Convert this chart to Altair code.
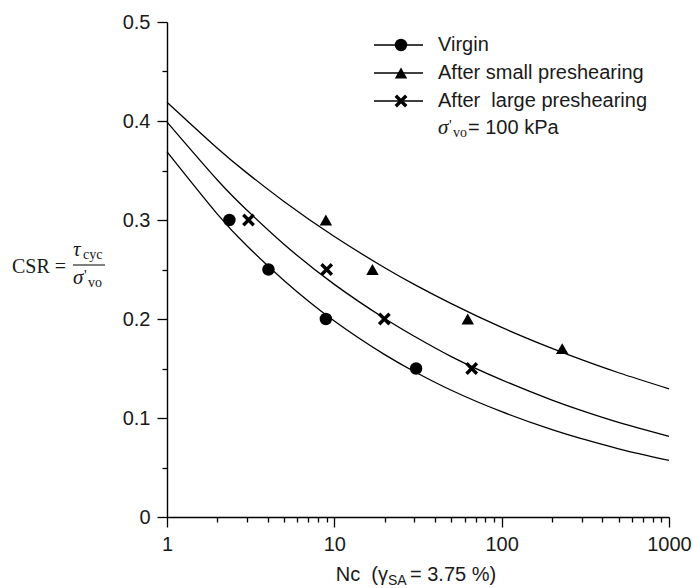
import altair as alt
import pandas as pd

# ---------------- data ----------------
series_names = ["Virgin", "After small preshearing", "After\u00a0 large preshearing"]

# fitted curves
curve_N = [1, 2, 3, 5, 10, 20, 30, 50, 100, 200, 300, 500, 1000]
curve_virgin = [0.369, 0.306, 0.274, 0.239, 0.198, 0.164, 0.147, 0.128, 0.1064, 0.0882, 0.0791, 0.0689, 0.0572]
curve_small = [0.419, 0.3725, 0.3476, 0.3187, 0.2833, 0.2518, 0.2350, 0.2155, 0.1915, 0.1703, 0.1589, 0.1457, 0.1295]
curve_large = [0.399, 0.3404, 0.310, 0.2755, 0.235, 0.2005, 0.1826, 0.162, 0.1385, 0.1181, 0.1076, 0.0956, 0.0815]

# measured points
virgin_N = [2.36, 4.04, 8.9, 30.8]
virgin_csr = [0.30, 0.25, 0.20, 0.15]
small_N = [8.9, 16.9, 62.7, 230]
small_csr = [0.30, 0.25, 0.20, 0.17]
large_N = [3.07, 9.0, 19.9, 66.2]
large_csr = [0.30, 0.25, 0.20, 0.15]

x_ticks = [1, 2, 3, 4, 5, 6, 7, 8, 9, 10, 20, 30, 40, 50, 60, 70, 80, 90,
           100, 200, 300, 400, 500, 600, 700, 800, 900, 1000]
y_ticks = [0, 0.05, 0.1, 0.15, 0.2, 0.25, 0.3, 0.35, 0.4, 0.45, 0.5]

# ---------------- tables ----------------
curves = pd.concat([
    pd.DataFrame({"series": name, "N": curve_N, "CSR": vals})
    for name, vals in zip(series_names, [curve_virgin, curve_small, curve_large])
])
points = pd.concat([
    pd.DataFrame({"series": name, "N": n, "CSR": c})
    for name, n, c in zip(series_names, [virgin_N, small_N, large_N],
                          [virgin_csr, small_csr, large_csr])
])

W, H = 502, 495
SANS = "Liberation Sans"
SERIF = "Liberation Serif"
INK = "#1a1a1a"
FS = 20

X_PATH = "M-0.8,-0.8L0.8,0.8M0.8,-0.8L-0.8,0.8"
X_SIZE = 170
X_STROKE = 3.4

major_x = "datum.value == 1 || datum.value == 10 || datum.value == 100 || datum.value == 1000"
major_y = "round(datum.value * 20) % 2 == 0"

x_enc = alt.X("N:Q",
              scale=alt.Scale(type="log", domain=[1, 1000], nice=False),
              axis=alt.Axis(values=x_ticks, title=None, grid=False,
                            labelExpr=f"({major_x}) ? format(datum.value, 'd') : ''",
                            tickSize={"condition": {"test": major_x, "value": 10}, "value": 5},
                            labelFlush=False, labelOverlap=False,
                            labelFont=SANS, labelFontSize=FS, labelColor=INK,
                            labelPadding=7, domainColor="black", tickColor="black",
                            domainWidth=1.4, tickWidth=1.3))
y_enc = alt.Y("CSR:Q",
              scale=alt.Scale(domain=[0, 0.5], nice=False),
              axis=alt.Axis(values=y_ticks, title=None, grid=False,
                            labelExpr=f"({major_y}) ? format(datum.value, '~g') : ''",
                            tickSize={"condition": {"test": major_y, "value": 10}, "value": 5},
                            labelOverlap=False,
                            labelFont=SANS, labelFontSize=FS, labelColor=INK,
                            labelPadding=7, domainColor="black", tickColor="black",
                            domainWidth=1.4, tickWidth=1.3))

lines = alt.Chart(curves).mark_line(color="black", strokeWidth=1.3, interpolate="natural").encode(
    x=x_enc, y=y_enc, detail="series:N")

filled_pts = alt.Chart(points).transform_filter(
    alt.FieldOneOfPredicate(field="series", oneOf=series_names[:2])
).mark_point(filled=True, color="black", opacity=1).encode(
    x="N:Q", y="CSR:Q",
    shape=alt.Shape("series:N", scale=alt.Scale(domain=series_names[:2],
                                                range=["circle", "triangle-up"]), legend=None),
    size=alt.Size("series:N", scale=alt.Scale(domain=series_names[:2], range=[155, 155]), legend=None),
)
cross_pts = alt.Chart(points).transform_filter(
    alt.FieldEqualPredicate(field="series", equal=series_names[2])
).mark_point(shape=X_PATH, size=X_SIZE, filled=False, color="black", strokeWidth=X_STROKE,
             opacity=1).encode(x="N:Q", y="CSR:Q")

one = pd.DataFrame({"k": [0]})


def txt(s, x, y, font=SANS, size=FS, style="normal", align="left", baseline="alphabetic"):
    return alt.Chart(one).mark_text(text=s, font=font, fontSize=size, fontStyle=style,
                                    align=align, baseline=baseline, color=INK).encode(
        x=alt.value(x), y=alt.value(y))


layers = [lines, filled_pts, cross_pts]

# ---------------- legend ----------------
leg_rows = [23, 51, 79]
for i, (name, yy) in enumerate(zip(series_names, leg_rows)):
    layers.append(alt.Chart(one).mark_rule(color="black", strokeWidth=1.3).encode(
        x=alt.value(207), x2=alt.value(256), y=alt.value(yy)))
    if i == 0:
        mk = alt.Chart(one).mark_point(shape="circle", size=155, filled=True, color="black", opacity=1)
    elif i == 1:
        mk = alt.Chart(one).mark_point(shape="triangle-up", size=155, filled=True, color="black", opacity=1)
    else:
        mk = alt.Chart(one).mark_point(shape=X_PATH, size=X_SIZE, filled=False, color="black",
                                       strokeWidth=X_STROKE, opacity=1)
    layers.append(mk.encode(x=alt.value(234), y=alt.value(yy)))
    layers.append(txt(name, 271, yy, baseline="middle"))

layers.append(txt("σ", 271, 112, font=SERIF, size=21, style="italic"))
layers.append(txt("'", 282, 108, font=SERIF, size=15))
layers.append(txt("vo", 286, 115, font=SERIF, size=14))
layers.append(txt("= 100 kPa", 301, 106, baseline="middle"))

# ---------------- y title (fraction) ----------------
layers.append(txt("CSR =", -155, 245, font=SERIF, size=20, baseline="middle"))
layers.append(txt("τ", -94, 234, font=SERIF, size=21, style="italic"))
layers.append(txt("cyc", -84, 237, font=SERIF, size=14))
layers.append(alt.Chart(one).mark_rule(color="black", strokeWidth=1).encode(
    x=alt.value(-94), x2=alt.value(-62), y=alt.value(243)))
layers.append(txt("σ", -94, 262, font=SERIF, size=21, style="italic"))
layers.append(txt("'", -83, 258, font=SERIF, size=15))
layers.append(txt("vo", -79, 265, font=SERIF, size=14))

# ---------------- x title ----------------
layers.append(txt("Nc\u00a0 (γ", 221, 559, align="right"))
layers.append(txt("SA", 221, 563, size=14))
layers.append(txt("= 3.75 %)", 243, 559))

chart = alt.layer(*layers).properties(
    width=W, height=H,
    autosize=alt.AutoSizeParams(type="none"),
    padding={"left": 167, "top": 22, "right": 24, "bottom": 71},
    background="white",
).configure_view(stroke=None)

chart.save("out.html", embed_options={"renderer": "svg", "actions": False})
